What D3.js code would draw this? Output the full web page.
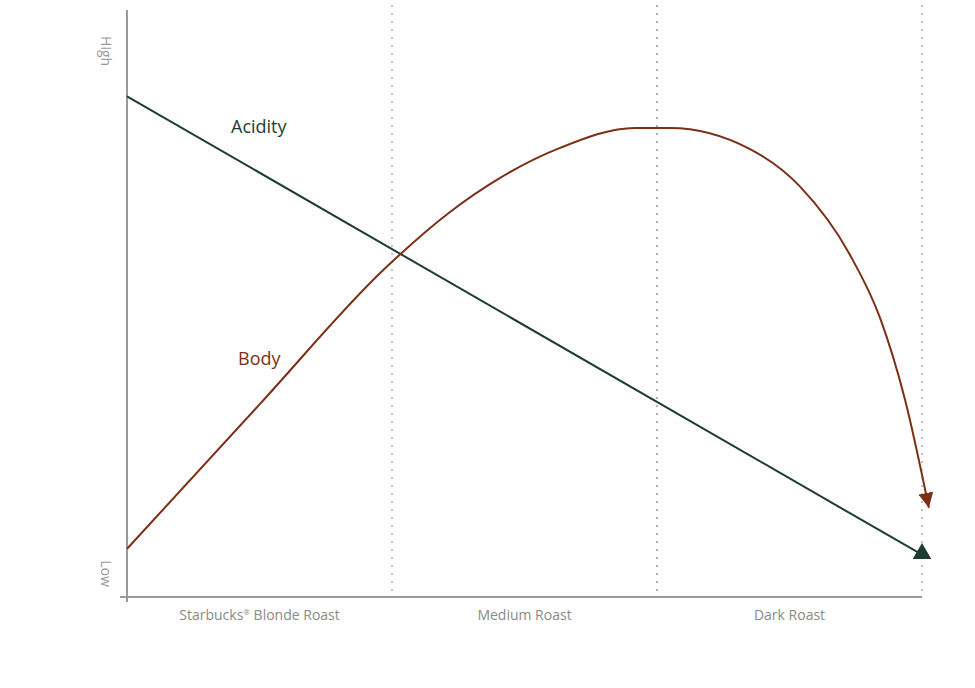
<!DOCTYPE html>
<html><head><meta charset="utf-8">
<script src="https://cdn.jsdelivr.net/npm/d3@7"></script>
<style>
html,body{margin:0;padding:0;background:#fff;}
svg{display:block;font-family:"Open Sans","Noto Sans",sans-serif;}
</style></head>
<body>
<svg id="chart" width="975" height="688"></svg>
<script>
const categories = ["Starbucks® Blonde Roast", "Medium Roast", "Dark Roast"];
const levelLabels = ["Low", "High"];
// x in category units (0 = left edge of first category), y on 0..100 scale
const acidityX = [0, 3];
const acidityY = [85.3, 7.2];
const bodyX = [0, 0.502, 0.974, 1.219, 1.408, 1.634, 1.917, 2.049, 2.351, 2.540, 2.728, 2.842, 2.936, 3.026];
const bodyY = [8.2, 32.9, 56.0, 65.6, 71.4, 76.5, 79.9, 79.9, 76.3, 69.9, 58.3, 47.5, 33.6, 15.2];
const seriesNames = ["Acidity", "Body"];

const green = "#1d3c33", brown = "#7b2f15", grey = "#9a9a9a";
const svg = d3.select("#chart");
const mLeft = 127, mRight = 922, mTop = 10, mBottom = 597;

const xBand = d3.scaleBand().domain(categories).range([mLeft, mRight]);
const x = d3.scaleLinear().domain([0, 3]).range([mLeft, mRight]);
const y = d3.scaleLinear().domain([0, 100]).range([mBottom, mTop]);

// dotted gridlines at category boundaries
svg.append("g").selectAll("line").data([1, 2, 3]).join("line")
  .attr("x1", d => x(d)).attr("x2", d => x(d))
  .attr("y1", 5).attr("y2", mBottom)
  .attr("stroke", d => d === 2 ? "#b0b0b0" : "#c4c4c4")
  .attr("stroke-width", 2)
  .attr("stroke-dasharray", "2,6");

// axes
const xAxis = svg.append("g").attr("transform", `translate(0,${mBottom})`)
  .call(d3.axisBottom(xBand).tickSize(0).tickPadding(13));
xAxis.select(".domain").remove();
xAxis.selectAll("text").attr("fill", "#8a8a8a").style("font-size", "14px")
  .style("font-family", '"Open Sans","Noto Sans",sans-serif');
xAxis.selectAll(".tick text").each(function(d){
  const t = d3.select(this);
  if (d.includes("®")) {
    const parts = d.split("®");
    t.text(null);
    t.append("tspan").text(parts[0]);
    t.append("tspan").text("®").attr("baseline-shift", "super").style("font-size", "8px");
    t.append("tspan").text(parts[1]);
  }
});
svg.append("line").attr("x1", mLeft - 7).attr("x2", mRight)
  .attr("y1", mBottom).attr("y2", mBottom)
  .attr("stroke", grey).attr("stroke-width", 2);
svg.append("line").attr("x1", mLeft).attr("x2", mLeft)
  .attr("y1", mTop).attr("y2", mBottom + 5)
  .attr("stroke", grey).attr("stroke-width", 2);

// level labels (rotated)
svg.append("g").selectAll("text").data(levelLabels).join("text")
  .attr("transform", d => `translate(101,${d === "High" ? y(93) : y(4)}) rotate(90)`)
  .attr("text-anchor", "middle")
  .attr("fill", "#9a9a9a").style("font-size", "14px")
  .text(d => d);

// markers
const defs = svg.append("defs");
defs.append("marker").attr("id", "arrowBrown")
  .attr("viewBox", "0 0 10 10").attr("refX", 10).attr("refY", 5)
  .attr("markerWidth", 15).attr("markerHeight", 15).attr("markerUnits", "userSpaceOnUse")
  .attr("orient", "auto")
  .append("path").attr("d", "M0,0 L10,5 L0,10 Z").attr("fill", brown);

const line = d3.line().x(d => x(d[0])).y(d => y(d[1]));

// Acidity
const acid = acidityX.map((v, i) => [v, acidityY[i]]);
svg.append("path").datum(acid).attr("d", line)
  .attr("fill", "none").attr("stroke", green).attr("stroke-width", 2);
svg.append("path")
  .attr("d", d3.symbol(d3.symbolTriangle, 150)())
  .attr("transform", `translate(${x(acid[1][0])},${y(acid[1][1]) - 1})`)
  .attr("fill", green);

// Body
const body = bodyX.map((v, i) => [v, bodyY[i]]);
svg.append("path").datum(body)
  .attr("d", d3.line().x(d => x(d[0])).y(d => y(d[1])).curve(d3.curveMonotoneX))
  .attr("fill", "none").attr("stroke", brown).attr("stroke-width", 2)
  .attr("marker-end", "url(#arrowBrown)");

// series labels
svg.append("text").attr("x", 231).attr("y", 133).attr("fill", green)
  .style("font-size", "18px").text(seriesNames[0]);
svg.append("text").attr("x", 238).attr("y", 365).attr("fill", brown)
  .style("font-size", "18px").text(seriesNames[1]);
</script>
</body></html>
